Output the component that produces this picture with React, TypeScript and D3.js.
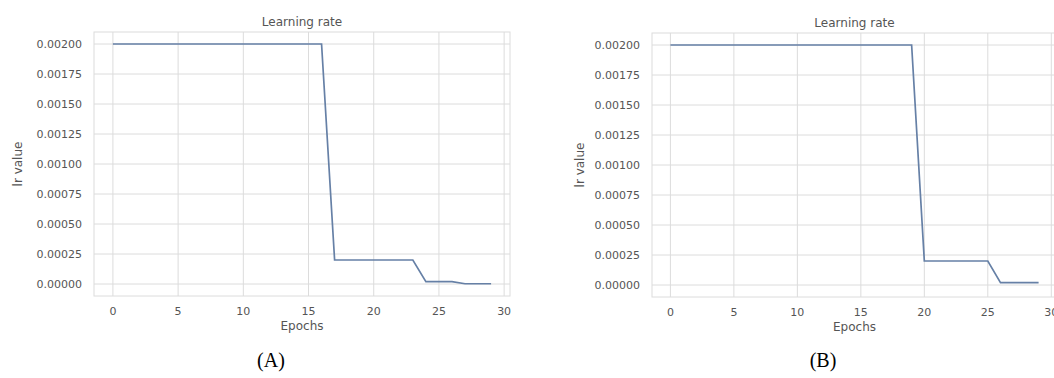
import React from 'react';
import * as d3 from 'd3';

// epochs 0..29 for both runs
const epochs = d3.range(0, 30);
// run (A): step decay after epoch 16, 23, 26
const lrA = [
  0.002, 0.002, 0.002, 0.002, 0.002, 0.002, 0.002, 0.002, 0.002, 0.002,
  0.002, 0.002, 0.002, 0.002, 0.002, 0.002, 0.002, 0.0002, 0.0002, 0.0002,
  0.0002, 0.0002, 0.0002, 0.0002, 0.00002, 0.00002, 0.00002, 0.000002, 0.000002, 0.000002,
];
// run (B): step decay after epoch 19, 25
const lrB = [
  0.002, 0.002, 0.002, 0.002, 0.002, 0.002, 0.002, 0.002, 0.002, 0.002,
  0.002, 0.002, 0.002, 0.002, 0.002, 0.002, 0.002, 0.002, 0.002, 0.002,
  0.0002, 0.0002, 0.0002, 0.0002, 0.0002, 0.0002, 0.00002, 0.00002, 0.00002, 0.00002,
];
const xTicks = [0, 5, 10, 15, 20, 25, 30];
const yTicks = [0, 0.00025, 0.0005, 0.00075, 0.001, 0.00125, 0.0015, 0.00175, 0.002];

const FONT = 'DejaVu Sans, sans-serif';
const TXT = '#555';
const GRID = '#dcdcdc';
const LINE = '#6680a6';

type PanelProps = { values: number[]; box: { l: number; r: number; t: number; b: number }; tag: string; tagX: number; ylabX: number };

function Panel({ values, box, tag, tagX, ylabX }: PanelProps) {
  const x = d3.scaleLinear().domain([-1.45, 30.45]).range([box.l, box.r]);
  const y = d3.scaleLinear().domain([-0.0001, 0.0021]).range([box.b, box.t]);
  const line = d3.line<number>().x((_, i) => x(epochs[i])).y(d => y(d));
  const fmt = d3.format('.5f');
  const cx = (box.l + box.r) / 2;
  return (
    <g>
      <rect x={box.l} y={box.t} width={box.r - box.l} height={box.b - box.t} fill="#fff" stroke={GRID} strokeWidth={1} />
      {xTicks.map(t => (
        <g key={'x' + t}>
          <line x1={x(t)} x2={x(t)} y1={box.t} y2={box.b} stroke={GRID} strokeWidth={1} />
          <text x={x(t)} y={box.b + 19} textAnchor="middle" fontSize={11} fill={TXT}>{t}</text>
        </g>
      ))}
      {yTicks.map(t => (
        <g key={'y' + t}>
          <line x1={box.l} x2={box.r} y1={y(t)} y2={y(t)} stroke={GRID} strokeWidth={1} />
          <text x={box.l - 12} y={y(t)} dy="0.35em" textAnchor="end" fontSize={11} fill={TXT}>{fmt(t)}</text>
        </g>
      ))}
      <path d={line(values) || ''} fill="none" stroke={LINE} strokeWidth={1.7} />
      <text x={cx} y={box.t - 6} textAnchor="middle" fontSize={12} fill={TXT}>Learning rate</text>
      <text x={cx} y={box.b + 34} textAnchor="middle" fontSize={12} fill={TXT}>Epochs</text>
      <text transform={`translate(${ylabX},${(box.t + box.b) / 2}) rotate(-90)`} textAnchor="middle" fontSize={12} fill={TXT}>lr value</text>
      <text x={tagX} y={367} textAnchor="middle" fontSize={20} fill="#000" fontFamily="Liberation Serif, serif">{tag}</text>
    </g>
  );
}

export default function App() {
  return (
    <svg width={1054} height={378} style={{ position: 'absolute', left: 0, top: 0, background: '#fff' }} fontFamily={FONT}>
      <Panel values={lrA} box={{ l: 94, r: 510, t: 32, b: 296 }} tag="(A)" tagX={271} ylabX={22} />
      <Panel values={lrB} box={{ l: 652, r: 1057, t: 33, b: 297 }} tag="(B)" tagX={823} ylabX={584} />
    </svg>
  );
}
